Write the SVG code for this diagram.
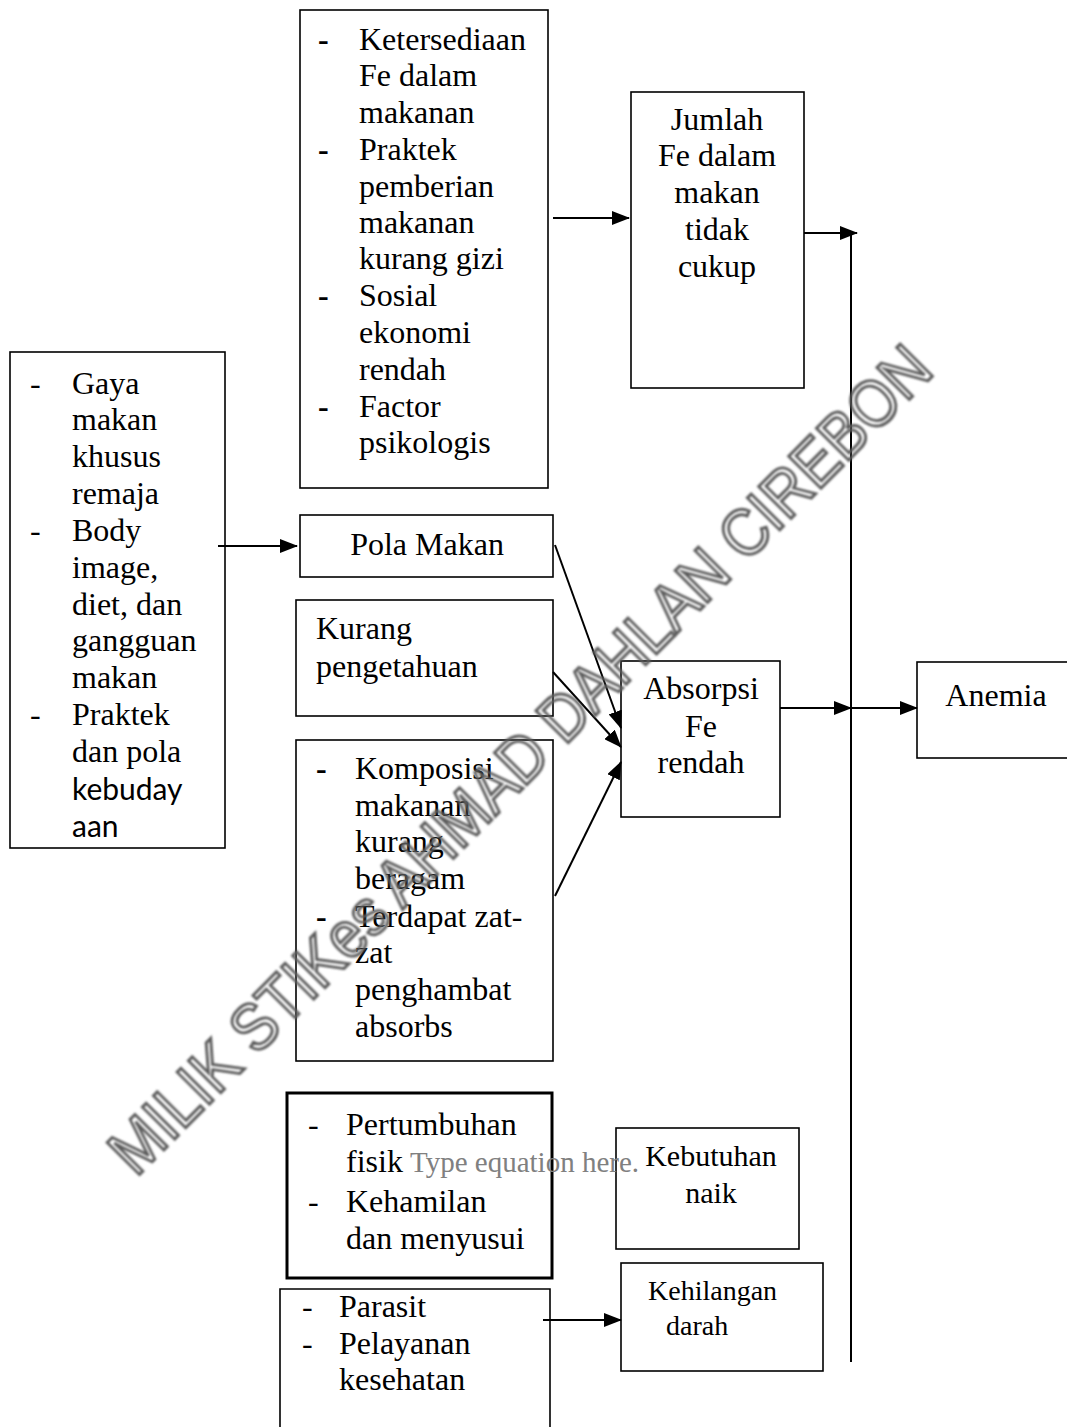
<svg xmlns="http://www.w3.org/2000/svg" width="1067" height="1427" viewBox="0 0 1067 1427">
<defs>
<marker id="ah" viewBox="0 0 18 14" markerWidth="18" markerHeight="14" refX="17" refY="7" orient="auto" markerUnits="userSpaceOnUse">
<path d="M0,0 L18,7 L0,14 Z" fill="#000"/>
</marker>
<filter id="soft" x="-5%" y="-5%" width="110%" height="110%"><feGaussianBlur stdDeviation="1"/></filter>
<style>
.box{fill:none;stroke:#000;stroke-width:1.6}
.thick{fill:none;stroke:#000;stroke-width:3}
.t{font-family:"Liberation Serif","Times New Roman",serif;font-size:32px;fill:#000}
.c{text-anchor:middle}
.d{font-weight:bold}
.cal{font-family:Lato,"Open Sans",sans-serif;font-size:30px;fill:#000}
.eq{font-family:"Liberation Serif","Times New Roman",serif;font-size:29px;fill:#808080}
.ln{fill:none;stroke:#000;stroke-width:2}
.wm{font-family:"Liberation Sans",Arial,sans-serif;font-size:66px;fill:none;stroke:#5c5c5c;stroke-width:3}
</style>
</defs>
<rect width="1067" height="1427" fill="#fff"/>

<g id="faktor-makanan">
<rect class="box" x="300" y="10" width="248" height="478"/>
<text class="t d" x="318" y="50">-</text><text class="t" x="359" y="50">Ketersediaan</text>
<text class="t" x="359" y="86">Fe dalam</text>
<text class="t" x="359" y="123">makanan</text>
<text class="t d" x="318" y="160">-</text><text class="t" x="359" y="160">Praktek</text>
<text class="t" x="359" y="197">pemberian</text>
<text class="t" x="359" y="233">makanan</text>
<text class="t" x="359" y="269">kurang gizi</text>
<text class="t d" x="318" y="306">-</text><text class="t" x="359" y="306">Sosial</text>
<text class="t" x="359" y="343">ekonomi</text>
<text class="t" x="359" y="380">rendah</text>
<text class="t d" x="318" y="417">-</text><text class="t" x="359" y="417">Factor</text>
<text class="t" x="359" y="453">psikologis</text>
</g>

<g id="jumlah-fe">
<rect class="box" x="631" y="92" width="173" height="296"/>
<text class="t c" x="717" y="130">Jumlah</text>
<text class="t c" x="717" y="166">Fe dalam</text>
<text class="t c" x="717" y="203">makan</text>
<text class="t c" x="717" y="240">tidak</text>
<text class="t c" x="717" y="277">cukup</text>
</g>

<g id="gaya-makan">
<rect class="box" x="10" y="352" width="215" height="496"/>
<text class="t" x="30" y="394">-</text><text class="t" x="72" y="394">Gaya</text>
<text class="t" x="72" y="430">makan</text>
<text class="t" x="72" y="467">khusus</text>
<text class="t" x="72" y="504">remaja</text>
<text class="t" x="30" y="541">-</text><text class="t" x="72" y="541">Body</text>
<text class="t" x="72" y="578">image,</text>
<text class="t" x="72" y="615">diet, dan</text>
<text class="t" x="72" y="651">gangguan</text>
<text class="t" x="72" y="688">makan</text>
<text class="t" x="30" y="725">-</text><text class="t" x="72" y="725">Praktek</text>
<text class="t" x="72" y="762">dan pola</text>
<text class="cal" x="72" y="800">kebuday</text>
<text class="cal" x="72" y="837">aan</text>
</g>

<g id="pola-makan">
<rect class="box" x="300" y="515" width="253" height="62"/>
<text class="t c" x="427" y="555">Pola Makan</text>
</g>

<g id="kurang-pengetahuan">
<rect class="box" x="296" y="600" width="257" height="116"/>
<text class="t" x="316" y="639">Kurang</text>
<text class="t" x="316" y="677">pengetahuan</text>
</g>

<g id="komposisi">
<rect class="box" x="296" y="740" width="257" height="321"/>
<text class="t d" x="316" y="779">-</text><text class="t" x="355" y="779">Komposisi</text>
<text class="t" x="355" y="816">makanan</text>
<text class="t" x="355" y="852">kurang</text>
<text class="t" x="355" y="889">beragam</text>
<text class="t d" x="316" y="927">-</text><text class="t" x="355" y="927">Terdapat zat-</text>
<text class="t" x="355" y="963">zat</text>
<text class="t" x="355" y="1000">penghambat</text>
<text class="t" x="355" y="1037">absorbs</text>
</g>

<g id="absorpsi">
<rect class="box" x="621" y="661" width="159" height="156"/>
<text class="t c" x="701" y="699">Absorpsi</text>
<text class="t c" x="701" y="737">Fe</text>
<text class="t c" x="701" y="773">rendah</text>
</g>

<g id="anemia">
<rect class="box" x="917" y="662" width="170" height="96"/>
<text class="t c" x="996" y="706">Anemia</text>
</g>

<g id="pertumbuhan">
<rect class="thick" x="287" y="1093" width="265" height="185"/>
<text class="t" x="308" y="1135">-</text><text class="t" x="346" y="1135">Pertumbuhan</text>
<text class="t" x="346" y="1172">fisik</text>
<text class="t" x="308" y="1212">-</text><text class="t" x="346" y="1212">Kehamilan</text>
<text class="t" x="346" y="1249">dan menyusui</text>
</g>

<g id="kebutuhan">
<rect class="box" x="616" y="1128" width="183" height="121"/>
<text class="t c" x="711" y="1166" style="font-size:30px">Kebutuhan</text>
<text class="t c" x="711" y="1203" style="font-size:30px">naik</text>
</g>

<g id="parasit">
<path class="box" d="M280,1440 V1289 H550 V1440"/>
<text class="t" x="302" y="1317">-</text><text class="t" x="339" y="1317">Parasit</text>
<text class="t" x="302" y="1354">-</text><text class="t" x="339" y="1354">Pelayanan</text>
<text class="t" x="339" y="1390">kesehatan</text>
</g>

<g id="kehilangan">
<rect class="box" x="621" y="1263" width="202" height="108"/>
<text class="t" x="648" y="1300" style="font-size:28px">Kehilangan</text>
<text class="t" x="666" y="1335" style="font-size:28px">darah</text>
</g>

<text class="eq" x="410" y="1172">Type equation here.</text>

<g id="connectors">
<line class="ln" x1="553" y1="218" x2="629" y2="218" marker-end="url(#ah)"/>
<line class="ln" x1="804" y1="233" x2="857" y2="233" stroke="#444" marker-end="url(#ah)"/>
<line class="ln" x1="851" y1="232" x2="851" y2="1362"/>
<line class="ln" x1="218" y1="546" x2="297" y2="546" marker-end="url(#ah)"/>
<line class="ln" x1="555" y1="545" x2="621" y2="728" marker-end="url(#ah)"/>
<line class="ln" x1="553" y1="672" x2="621" y2="747" marker-end="url(#ah)"/>
<line class="ln" x1="555" y1="896" x2="621" y2="762" marker-end="url(#ah)"/>
<line class="ln" x1="780" y1="708" x2="851" y2="708" marker-end="url(#ah)"/>
<line class="ln" x1="851" y1="708" x2="917" y2="708" marker-end="url(#ah)"/>
<line class="ln" x1="543" y1="1320" x2="621" y2="1320" marker-end="url(#ah)"/>
</g>

<g id="watermark" filter="url(#soft)">
<text class="wm" transform="translate(136,1178) rotate(-45.2)" textLength="1135" lengthAdjust="spacingAndGlyphs">MILIK STIKes AHMAD DAHLAN CIREBON</text>
</g>
</svg>
